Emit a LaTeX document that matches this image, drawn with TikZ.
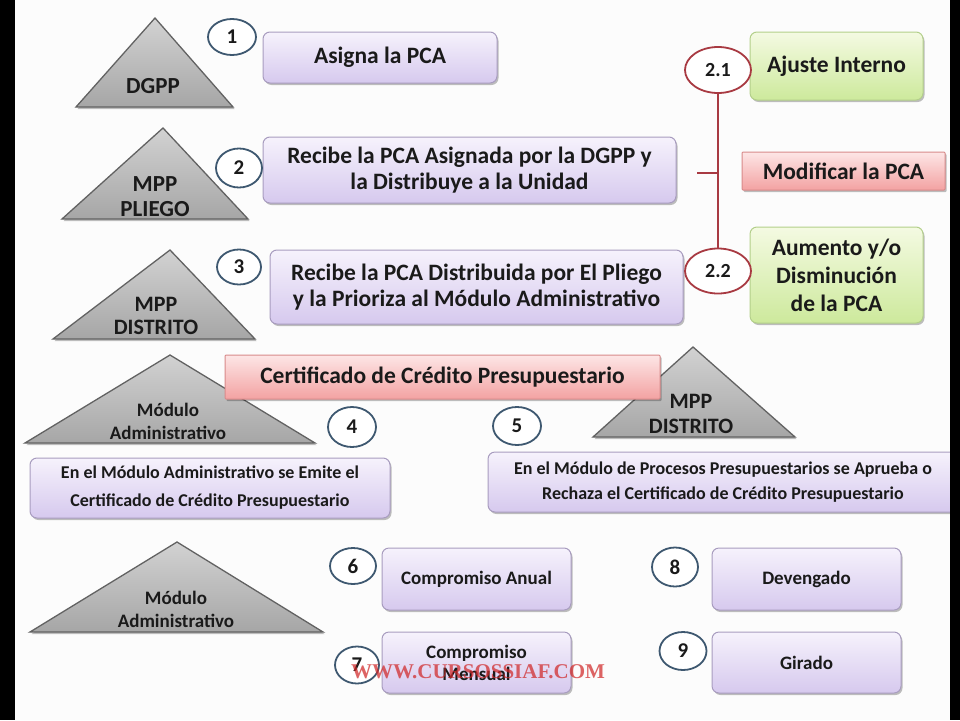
\documentclass[tikz,border=0pt]{standalone}
\usepackage{fontspec}
\setmainfont{Carlito}
\newfontfamily\wmfont{Liberation Serif}
\usetikzlibrary{shapes.geometric,shadows}
\definecolor{txt}{HTML}{1A1A1A}
\definecolor{ptop}{HTML}{F6F2FC}
\definecolor{pbot}{HTML}{D6C9EE}
\definecolor{pedge}{HTML}{A89CBF}
\definecolor{gtop}{HTML}{F4FAE2}
\definecolor{gbot}{HTML}{CDE99C}
\definecolor{gedge}{HTML}{B3CF8A}
\definecolor{rtop}{HTML}{FDE6E6}
\definecolor{rbot}{HTML}{F3A2A2}
\definecolor{redge}{HTML}{D88A8A}
\definecolor{tritop}{HTML}{D2D2D2}
\definecolor{tribot}{HTML}{A6A6A6}
\definecolor{triedge}{HTML}{626262}
\definecolor{cedge}{HTML}{3E5870}
\definecolor{eedge}{HTML}{A83A42}
\definecolor{wmred}{HTML}{D02828}
\newcommand\fsz[2]{\fontsize{#1}{#2}\selectfont\bfseries}
\tikzset{
  shade/.style={drop shadow={shadow xshift=1.5pt,shadow yshift=-2pt,fill=black,opacity=0.25}},
  basebox/.style={line width=1pt,rounded corners=7pt,align=center,inner sep=0pt,text=txt,shade},
  pbox/.style={basebox,draw=pedge,top color=ptop,bottom color=pbot},
  gbox/.style={basebox,draw=gedge,top color=gtop,bottom color=gbot},
  rbox/.style={basebox,draw=redge,top color=rtop,bottom color=rbot,rounded corners=1pt},
  tri/.style={draw=triedge,line width=1.3pt,top color=tritop,bottom color=tribot,line join=miter,shade},
  trilabel/.style={align=center,text=txt,inner sep=0pt},
  numc/.style={ellipse,draw=cedge,line width=1.8pt,fill=white,inner sep=0pt,text=txt,font=\fsz{21}{21}},
  nume/.style={ellipse,draw=eedge,line width=1.8pt,fill=white,inner sep=0pt,text=txt,font=\fsz{20}{20}},
  redline/.style={draw=eedge,line width=2pt},
  big/.style={font=\fsz{23.5}{26}},
}
\begin{document}
\begin{tikzpicture}[x=1pt,y=-1pt]
\useasboundingbox (0,0) rectangle (960,720);
\fill[white!98!gray] (0,0) rectangle (960,720);

% triangles
\path[tri] (155,18) -- (233,107) -- (76,107) -- cycle;
\node[trilabel,font=\fsz{23}{25}] (t1) at (153,86) {DGPP};
\path[tri] (163,128) -- (248,219) -- (62,219) -- cycle;
\node[trilabel,font=\fsz{23}{25}] (t2) at (155,197) {MPP\\PLIEGO};
\path[tri] (170,250) -- (255,339) -- (53,339) -- cycle;
\node[trilabel,font=\fsz{22}{23}] (t3) at (156,316) {MPP\\DISTRITO};
\path[tri] (170,355) -- (315,443) -- (25,443) -- cycle;
\node[trilabel,font=\fsz{19}{23}] (t4) at (168,421) {Módulo\\Administrativo};
\path[tri] (693,347) -- (795,437) -- (593,437) -- cycle;
\node[trilabel,font=\fsz{22}{25}] (t5) at (691,414) {MPP\\DISTRITO};
\path[tri] (177,542) -- (323,632) -- (30,632) -- cycle;
\node[trilabel,font=\fsz{19}{23}] (t6) at (176,609) {Módulo\\Administrativo};

% boxes
\node[pbox,big,minimum width=234pt,minimum height=51pt] (b1) at (380,57.5) {Asigna la PCA};
\node[pbox,big,minimum width=413pt,minimum height=66pt] (b2) at (469.5,170) {Recibe la PCA Asignada por la DGPP y\\la Distribuye a la Unidad};
\node[pbox,big,minimum width=413pt,minimum height=74pt] (b3) at (476.5,287) {Recibe la PCA Distribuida por El Pliego\\y la Prioriza al Módulo Administrativo};
\node[gbox,big,minimum width=173pt,minimum height=68pt] (g1) at (836.5,66) {Ajuste Interno};
\node[gbox,font=\fsz{23.5}{28},minimum width=173pt,minimum height=96pt] (g2) at (836.5,275) {Aumento y/o\\Disminución\\de la PCA};
\node[rbox,big,minimum width=203pt,minimum height=38pt] (r1) at (843.5,171) {Modificar la PCA};
\node[rbox,big,minimum width=435pt,minimum height=44pt] (r2) at (442.5,377) {Certificado de Crédito Presupuestario};
\node[pbox,font=\fsz{18}{28},minimum width=360pt,minimum height=60pt] (b4) at (210,488) {En el Módulo Administrativo se Emite el\\Certificado de Crédito Presupuestario};
\node[pbox,font=\fsz{18}{25},minimum width=470pt,minimum height=60pt] (b5) at (723,482) {En el Módulo de Procesos Presupuestarios se Aprueba o\\Rechaza el Certificado de Crédito Presupuestario};
\node[pbox,font=\fsz{19}{22},minimum width=189pt,minimum height=62pt] (b6) at (476.5,579) {Compromiso Anual};
\node[pbox,font=\fsz{19}{22},minimum width=189pt,minimum height=61pt] (b7) at (476.5,662.5) {Compromiso\\Mensual};
\node[pbox,font=\fsz{19}{22},minimum width=189pt,minimum height=62pt] (b8) at (806.5,579) {Devengado};
\node[pbox,font=\fsz{19}{22},minimum width=189pt,minimum height=61pt] (b9) at (806.5,662.5) {Girado};

% number circles
\node[numc,minimum width=48pt,minimum height=36pt] (c1) at (232,37) {1};
\node[numc,minimum width=46pt,minimum height=39pt] (c2) at (239,168) {2};
\node[numc,minimum width=44pt,minimum height=35pt] (c3) at (239,267) {3};
\node[numc,minimum width=48pt,minimum height=40pt] (c4) at (352,427) {4};
\node[numc,minimum width=48pt,minimum height=38pt] (c5) at (517,426) {5};
\node[numc,minimum width=46pt,minimum height=36pt] (c6) at (353,566) {6};
\node[numc,minimum width=44pt,minimum height=37pt] (c7) at (357,665) {7};
\node[numc,minimum width=46pt,minimum height=39pt] (c8) at (675,567) {8};
\node[numc,minimum width=47pt,minimum height=38pt] (c9) at (683,651) {9};

% 2.1 / 2.2 bracket
\node[nume,minimum width=66pt,minimum height=46pt] (e1) at (718,70) {2.1};
\node[nume,minimum width=66pt,minimum height=45pt] (e2) at (718,271) {2.2};
\draw[redline] (e1.south) -- (e2.north);
\coordinate (tk) at (697,173);
\coordinate (tj) at (718,173);
\draw[redline] (tk) -- (tj);

% watermark
\node[font=\wmfont\bfseries\fontsize{21}{21}\selectfont,text=wmred,text opacity=0.72,inner sep=0pt] (wm) at (478,672) {WWW.CURSOSSIAF.COM};

% black side bars
\fill[black] (0,0) rectangle (15,720);
\fill[black] (950,0) rectangle (960,720);
\end{tikzpicture}
\end{document}
